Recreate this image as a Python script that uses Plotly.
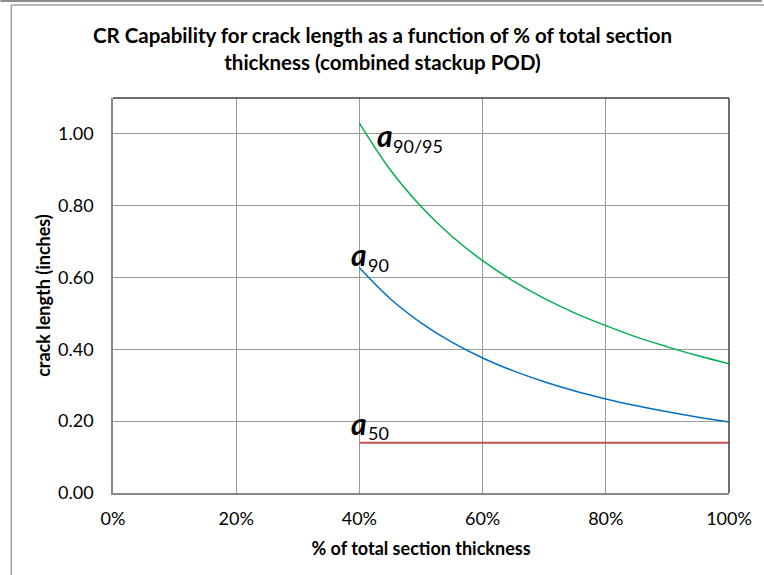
import plotly.graph_objects as go

# Data
thickness_pct = [0.40, 0.45, 0.50, 0.55, 0.60, 0.65, 0.70, 0.75, 0.80, 0.85, 0.90, 0.95, 1.00]
a90_95 = [1.03, 0.900, 0.798, 0.715, 0.647, 0.590, 0.542, 0.501, 0.466, 0.434, 0.407, 0.382, 0.360]
a90 = [0.627, 0.541, 0.474, 0.420, 0.376, 0.340, 0.310, 0.284, 0.262, 0.243, 0.226, 0.211, 0.198]
a50 = [0.140, 0.140, 0.140, 0.140, 0.140, 0.140, 0.140, 0.140, 0.140, 0.140, 0.140, 0.140, 0.140]

x_ticks = [0, 0.2, 0.4, 0.6, 0.8, 1.0]
x_tick_labels = ["0%", "20%", "40%", "60%", "80%", "100%"]
y_ticks = [0, 0.2, 0.4, 0.6, 0.8, 1.0]
y_tick_labels = ["0.00", "0.20", "0.40", "0.60", "0.80", "1.00"]

FONT = "Lato"
W, H = 764, 575
L, R, T, B = 113, 33, 98, 82
pw, ph = W - L - R, H - T - B

def px(xp):
    return (xp - L) / pw

def py(yp):
    return (H - B - yp) / ph

fig = go.Figure()
fig.add_trace(go.Scatter(x=thickness_pct, y=a90_95, mode="lines", line=dict(color="#00B050", width=1.5, shape="spline"), showlegend=False, hoverinfo="skip"))
fig.add_trace(go.Scatter(x=thickness_pct, y=a90, mode="lines", line=dict(color="#0070C0", width=1.5, shape="spline"), showlegend=False, hoverinfo="skip"))
fig.add_trace(go.Scatter(x=thickness_pct, y=a50, mode="lines", line=dict(color="#C0504D", width=2), showlegend=False, hoverinfo="skip"))

ann = []
def label(xd, yd, sub, xsub, ysub):
    ann.append(dict(x=xd, y=yd, xref="x", yref="y", text="<b><i>a</i></b>", showarrow=False,
                    font=dict(family=FONT, size=30, color="black"), xanchor="center", yanchor="middle"))
    ann.append(dict(x=xsub, y=ysub, xref="x", yref="y", text=sub, showarrow=False,
                    font=dict(family=FONT, size=18, color="black"), xanchor="left", yanchor="middle"))

label(0.441, 0.998, "90/95", 0.452, 0.967)
label(0.400, 0.665, "90", 0.411, 0.635)
label(0.399, 0.195, "50", 0.410, 0.167)

# title
ann.append(dict(x=px(383), y=py(48), xref="paper", yref="paper",
                text="<b>CR Capability for crack length as a function of % of total section<br>thickness (combined stackup POD)</b>",
                showarrow=False, font=dict(family=FONT, size=20.5, color="black"), xanchor="center", yanchor="middle"))

fig.update_layout(annotations=ann)

shapes = [
    # chart area frame
    dict(type="line", xref="paper", yref="paper", x0=px(0), x1=px(W), y0=py(1), y1=py(1), line=dict(color="#8c8c8c", width=2)),
    dict(type="line", xref="paper", yref="paper", x0=px(11), x1=px(W + 5), y0=py(5), y1=py(5), line=dict(color="#a0a0a0", width=1.5)),
    dict(type="line", xref="paper", yref="paper", x0=px(11), x1=px(11), y0=py(5), y1=py(H + 5), line=dict(color="#a0a0a0", width=1.5)),
    # plot area top/right borders
    dict(type="line", xref="paper", yref="paper", x0=0, x1=1, y0=1, y1=1, line=dict(color="#404040", width=1.5)),
    dict(type="line", xref="paper", yref="paper", x0=1, x1=1, y0=0, y1=1, line=dict(color="#404040", width=1.5)),
]
fig.update_layout(shapes=shapes)

fig.update_layout(
    width=W, height=H,
    margin=dict(l=L, r=R, t=T, b=B),
    paper_bgcolor="white", plot_bgcolor="white",
    font=dict(family=FONT, color="black"),
    hovermode=False,
    xaxis=dict(range=[0, 1.0], tickvals=x_ticks, ticktext=x_tick_labels, showgrid=True, gridcolor="#999999", gridwidth=1,
               showline=True, linecolor="#888888", linewidth=1.5, ticks="", zeroline=False,
               tickfont=dict(family=FONT, size=18, color="black"), ticklabelstandoff=9,
               title=dict(text="<b>% of total section thickness</b>", font=dict(family=FONT, size=18, color="black"), standoff=14)),
    yaxis=dict(range=[0, 1.1], tickvals=y_ticks, ticktext=y_tick_labels, showgrid=True, gridcolor="#999999", gridwidth=1,
               showline=True, linecolor="#888888", linewidth=1.5, ticks="", zeroline=False,
               tickfont=dict(family=FONT, size=18, color="black"), ticklabelstandoff=14,
               title=dict(text="<b>crack length (inches)</b>", font=dict(family=FONT, size=18, color="black"), standoff=3)),
)

fig.write_html("out.html", config={"displayModeBar": False},
               post_script="document.body.style.margin='0';document.body.style.overflow='hidden';")
